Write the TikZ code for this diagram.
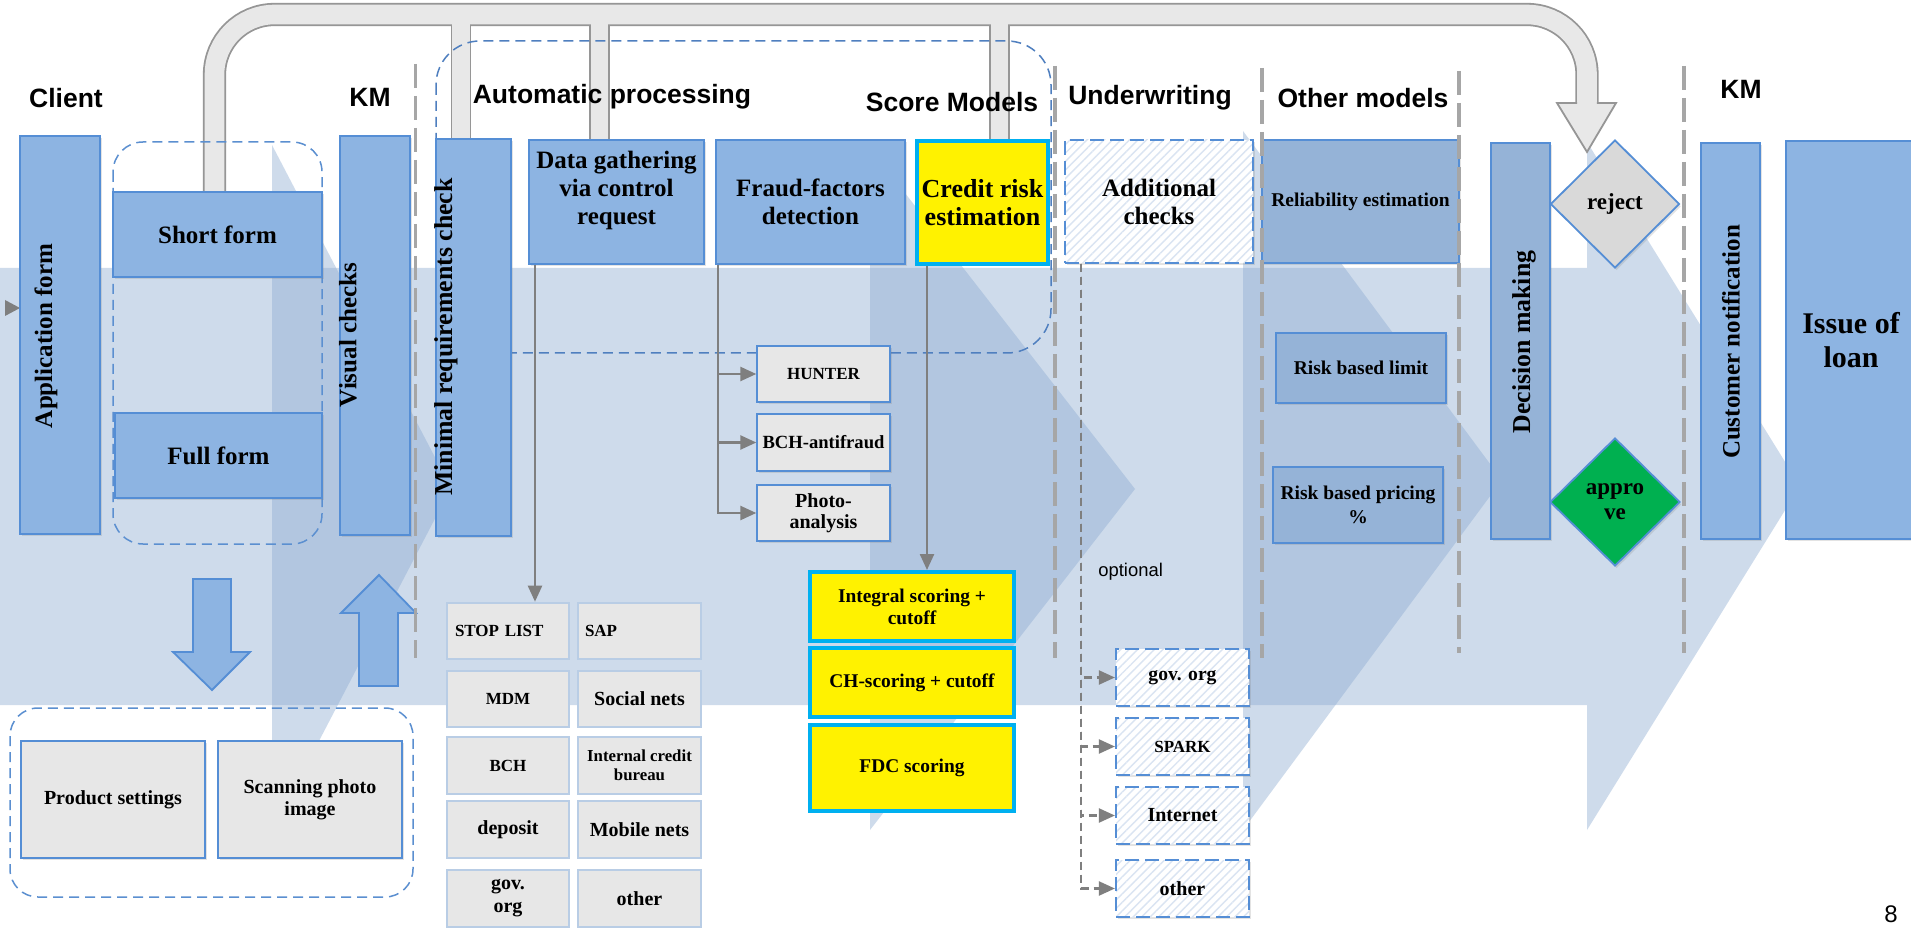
\documentclass[tikz,border=0pt]{standalone}
\usepackage{fontspec}
\setmainfont{Liberation Serif}
\newfontfamily\sansf{Liberation Sans}
\usetikzlibrary{shapes.geometric,arrows.meta,shadows,patterns.meta}

\definecolor{bxfill}{HTML}{8DB4E2}
\definecolor{bxline}{HTML}{558ED5}
\definecolor{omfill}{HTML}{95B3D7}
\definecolor{gyfill}{HTML}{E7E7E7}
\definecolor{gridline}{HTML}{B9CDE5}
\definecolor{cyanline}{HTML}{00B0F0}
\definecolor{bgblue}{RGB}{140,171,209}
\definecolor{arcfill}{HTML}{E8E8E8}
\definecolor{arcline}{HTML}{969696}
\definecolor{sepgrey}{HTML}{A6A6A6}
\definecolor{conngrey}{HTML}{7F7F7F}
\definecolor{hatchc}{HTML}{DAE4F2}
\definecolor{grpline}{HTML}{5B8FD0}
\definecolor{grpdark}{HTML}{4F7FBF}
\definecolor{okgreen}{HTML}{00B050}
\definecolor{rejgrey}{HTML}{D9D9D9}

\newcommand\fbig{\bfseries\fontsize{12.5}{14}\selectfont}
\newcommand\fom{\bfseries\fontsize{9.75}{12}\selectfont}
\newcommand\fyel{\bfseries\fontsize{9.7}{11}\selectfont}
\newcommand\fsz[2]{\bfseries\fontsize{#1}{#2}\selectfont}

\tikzset{
  bx/.style n args={4}{minimum width={(#3-#1)*0.5pt}, minimum height={(#4-#2)*0.5pt},
     at={({(#1+#3)/2},{(#2+#4)/2})}, anchor=center},
  shad/.style={drop shadow={opacity=0.22,shadow xshift=0.8pt,shadow yshift=-1.2pt}},
  boxbase/.style={rectangle, inner sep=0pt, align=center, font=\fbig},
  bluebox/.style={boxbase, fill=bxfill, draw=bxline, line width=1pt, shad},
  ombox/.style={boxbase, fill=omfill, draw=bxline, line width=0.8pt, shad, font=\fom},
  greybox/.style={boxbase, fill=gyfill, draw=bxline, line width=0.7pt, shad},
  gridbox/.style={boxbase, fill=gyfill, draw=gridline, line width=1.3pt},
  yelbox/.style={boxbase, fill=yellow, draw=cyanline, line width=2pt, shad, font=\fyel},
  hatchbox/.style={boxbase, shad, preaction={fill=white}, draw=bxline, line width=1.1pt,
     dash pattern=on 7pt off 3pt, pattern={Lines[angle=45,distance=3pt,line width=0.7pt]},
     pattern color=hatchc},
  vtext/.style={rotate=90, font=\fbig, inner sep=0pt},
  htext/.style={font=\fbig, inner sep=0pt, align=center},
  dia/.style={diamond, aspect=1, inner sep=0pt, draw=bxline, line width=0.9pt, align=center,
     font=\fsz{11.5}{12.5}, shad},
  hdr/.style={font=\sansf\bfseries\fontsize{13.25}{15}\selectfont, inner sep=0pt},
  conn/.style={draw=conngrey, line width=1.2pt, -{Triangle[length=8pt,width=7pt]}},
  dconn/.style={draw=conngrey, line width=1.1pt, dash pattern=on 4pt off 2.5pt,
     -{Triangle[length=8pt,width=7pt]}},
  sepline/.style={draw=sepgrey, line width=1.8pt, dash pattern=on 12pt off 4pt},
  grp/.style={draw=grpline, line width=0.75pt, dash pattern=on 5pt off 3pt},
  bgshape/.style={fill=bgblue, opacity=0.42},
  blockarrow/.style={fill=bxfill, draw=bxline, line width=0.9pt, line join=miter}
}

\begin{document}
\begin{tikzpicture}[x=0.5pt,y=-0.5pt]
\useasboundingbox (0,0) rectangle (1911,930);
\fill[white] (0,0) rectangle (1911,930);

% background process arrow and chevrons
\fill[bgshape] (0,268) -- (1587,268) -- (1587,142) -- (1800,486) -- (1587,830) -- (1587,705) -- (0,705) -- cycle;
\fill[bgshape] (272,145) -- (451,488) -- (272,831) -- cycle;
\fill[bgshape] (870,148) -- (1135,489) -- (870,830) -- cycle;
\fill[bgshape] (1243,131) -- (1502,480) -- (1243,830) -- cycle;

% grey bent arrow (outline then fill)
\draw[arcline, line width=11.6pt, rounded corners=30pt] (214.5,192) -- (214.5,14.5) -- (1587,14.5) -- (1587,103);
\draw[arcline, line width=10.4pt] (461,20) -- (461,139);
\draw[arcline, line width=10.4pt] (599.5,20) -- (599.5,140);
\draw[arcline, line width=10.4pt] (999.5,20) -- (999.5,141);
\draw[arcfill, line width=9.8pt, rounded corners=30pt] (214.5,192) -- (214.5,14.5) -- (1587,14.5) -- (1587,103);
\draw[arcfill, line width=8.6pt] (461,14.5) -- (461,139);
\draw[arcfill, line width=8.6pt] (599.5,14.5) -- (599.5,140);
\draw[arcfill, line width=8.6pt] (999.5,14.5) -- (999.5,141);
\filldraw[fill=arcfill, draw=arcline, line width=0.9pt, line join=miter]
  (1577.2,103) -- (1557,103) -- (1587,152) -- (1616,103) -- (1596.8,103);

% dashed groups
\draw[grp, draw=grpdark, rounded corners=22pt] (436,41) rectangle (1051,353);
\draw[grp, rounded corners=15pt] (113,142) rectangle (322,544);
\draw[grp, rounded corners=14pt] (10,708) rectangle (413,897);

% small input marker
\fill[conngrey] (5,300) -- (20,308) -- (5,316) -- cycle;

% block arrows
\filldraw[blockarrow] (193,579) -- (231,579) -- (231,652) -- (250,652) -- (212,690) -- (173,652) -- (193,652) -- cycle;
\filldraw[blockarrow] (359,686) -- (398,686) -- (398,613) -- (416,613) -- (379,575) -- (341,613) -- (359,613) -- cycle;

% Client / KM
\node[bluebox, bx={20}{136}{100}{534}] (appform) {};
\node[vtext] (appformtxt) at (46,336) {Application form};
\node[bluebox, bx={113}{192}{322}{277}] (short) {Short form};
\node[bluebox, bx={115}{413}{322}{498}] (full) {Full form};
\node[bluebox, bx={340}{136}{410}{535}] (visual) {};
\node[vtext] (visualtxt) at (348,335) {Visual checks};

% Automatic processing
\node[bluebox, bx={436}{139}{511}{536}] (minimal) {};
\node[vtext, font=\fsz{12.9}{14}] (minimaltxt) at (446,337) {Minimal requirements check};
\node[bluebox, bx={529}{140}{704}{264}] (data) {};
\node[htext] (datatxt) at (616.5,190) {Data gathering\\via control\\request};
\node[bluebox, bx={716}{140}{905}{264}] (fraud) {Fraud-factors\\detection};
\node[yelbox, font=\fsz{13}{14.2}, bx={917}{141}{1048}{264}] (credit) {Credit risk\\estimation};

\node[greybox, font=\fsz{8.5}{10}, bx={757}{346}{890}{402}] (hunter) {HUNTER};
\node[greybox, font=\fsz{9.3}{10.5}, bx={757}{414}{890}{471}] (bchaf) {BCH-antifraud};
\node[greybox, font=\fsz{10}{10.5}, bx={757}{485}{890}{541}] (photo) {Photo-\\analysis};

\node[gridbox, font=\fsz{8.5}{10}, text width=53pt, align=left, bx={447}{603}{569}{659}] (stop) {STOP LIST};
\node[gridbox, font=\fsz{8.5}{10}, text width=54.5pt, align=left, bx={578}{603}{701}{659}] (sap) {SAP};
\node[gridbox, font=\fsz{8.5}{10}, bx={447}{671}{569}{727}] (mdm) {MDM};
\node[gridbox, font=\fsz{10}{11}, bx={578}{671}{701}{727}] (social) {Social nets};
\node[gridbox, font=\fsz{8.5}{10}, bx={447}{737}{569}{794}] (bch) {BCH};
\node[gridbox, font=\fsz{8.4}{9.5}, bx={578}{737}{701}{794}] (icb) {Internal credit\\bureau};
\node[gridbox, font=\fsz{10}{11}, bx={447}{801}{569}{858}] (deposit) {deposit};
\node[gridbox, font=\fsz{10}{11}, bx={578}{801}{701}{858}] (mobile) {Mobile nets};
\node[gridbox, font=\fsz{10}{11.5}, bx={447}{870}{569}{927}] (govorga) {gov.\\org};
\node[gridbox, font=\fsz{10}{11}, bx={578}{870}{701}{927}] (othera) {other};

% score models
\node[yelbox, bx={810}{572}{1014}{641}] (integral) {Integral scoring +\\cutoff};
\node[yelbox, bx={810}{648}{1014}{717}] (chscore) {CH-scoring + cutoff};
\node[yelbox, bx={810}{725}{1014}{811}] (fdc) {FDC scoring};

% underwriting
\node[hatchbox, bx={1065}{140}{1253}{263}] (addl) {Additional\\checks};
\node[hatchbox, font=\fsz{9.8}{11}, bx={1116}{649}{1249}{706}] (govorgb) {gov. org};
\node[hatchbox, font=\fsz{8.5}{10}, bx={1116}{718}{1249}{775}] (spark) {SPARK};
\node[hatchbox, font=\fsz{10}{11}, bx={1116}{787}{1249}{844}] (internet) {Internet};
\node[hatchbox, font=\fsz{10}{11}, bx={1116}{860}{1249}{917}] (otherb) {other};

% other models
\node[ombox, bx={1262}{140}{1459}{263}] (rel) {Reliability estimation};
\node[ombox, bx={1276}{333}{1446}{403}] (rbl) {Risk based limit};
\node[ombox, bx={1273}{467}{1443}{543}] (rbp) {Risk based pricing\\\%};

% decision
\node[ombox, bx={1491}{143}{1550}{539}] (decision) {};
\node[vtext, font=\fsz{12.9}{14}] (decisiontxt) at (1524,342) {Decision making};
\node[dia, fill=rejgrey, minimum width=64.5pt, minimum height=64pt] (reject) at (1615,204) {reject};
\node[dia, fill=okgreen, minimum width=65pt, minimum height=64pt] (approve) at (1615,502) {appro\\ve};

% KM right
\node[bluebox, bx={1701}{143}{1760}{539}] (custnot) {};
\node[vtext] (custnottxt) at (1731,342) {Customer notification};
\node[bluebox, font=\fsz{15}{17}, bx={1786}{141}{1916}{539}] (issue) {Issue of\\loan};

% bottom left
\node[greybox, font=\fsz{10}{11}, bx={21}{741}{205}{858}] (product) {Product settings};
\node[greybox, font=\fsz{10}{11}, bx={218}{741}{402}{858}] (scanning) {Scanning photo\\image};

% connectors
\coordinate (dgx) at ([xshift=3.5pt]data.south west);
\draw[conn] (dgx) -- (dgx |- stop.north);
\coordinate (ffx) at ([xshift=1.5pt]fraud.south west);
\draw[conn] (ffx) |- (hunter.west);
\draw[conn] (ffx) |- (bchaf.west);
\draw[conn] (ffx) |- (photo.west);
\coordinate (crx) at ([xshift=6pt]credit.south west);
\draw[conn] (crx) -- (crx |- integral.north);
\coordinate (acx) at ([xshift=8.5pt]addl.south west);
\draw[dconn] (acx) |- (govorgb.west);
\draw[dconn] (acx) |- (spark.west);
\draw[dconn] (acx) |- (internet.west);
\draw[dconn] (acx) |- (otherb.west);

% lane separators
\draw[sepline] (415.5,64) -- (415.5,658);
\draw[sepline] (1055,66) -- (1055,658);
\draw[sepline] (1262,68) -- (1262,658);
\draw[sepline] (1459,71) -- (1459,653);
\draw[sepline] (1684,66) -- (1684,653);

% headers
\node[hdr] (hclient) at (66,98) {Client};
\node[hdr] (hkm) at (370,97) {KM};
\node[hdr] (hauto) at (612,97) {Automatic processing};
\node[hdr] (hscore) at (952,102) {Score Models};
\node[hdr] (hunder) at (1150,98) {Underwriting};
\node[hdr] (hother) at (1363,98) {Other models};
\node[hdr] (hkmb) at (1741,89) {KM};

\node[font=\sansf\fontsize{9.2}{11}\selectfont, anchor=west, inner sep=0pt] (optional) at (1098,572) {optional};
\node[font=\sansf\fontsize{12}{14}\selectfont, inner sep=0pt] (pagenum) at (1891,914) {8};
\end{tikzpicture}
\end{document}
